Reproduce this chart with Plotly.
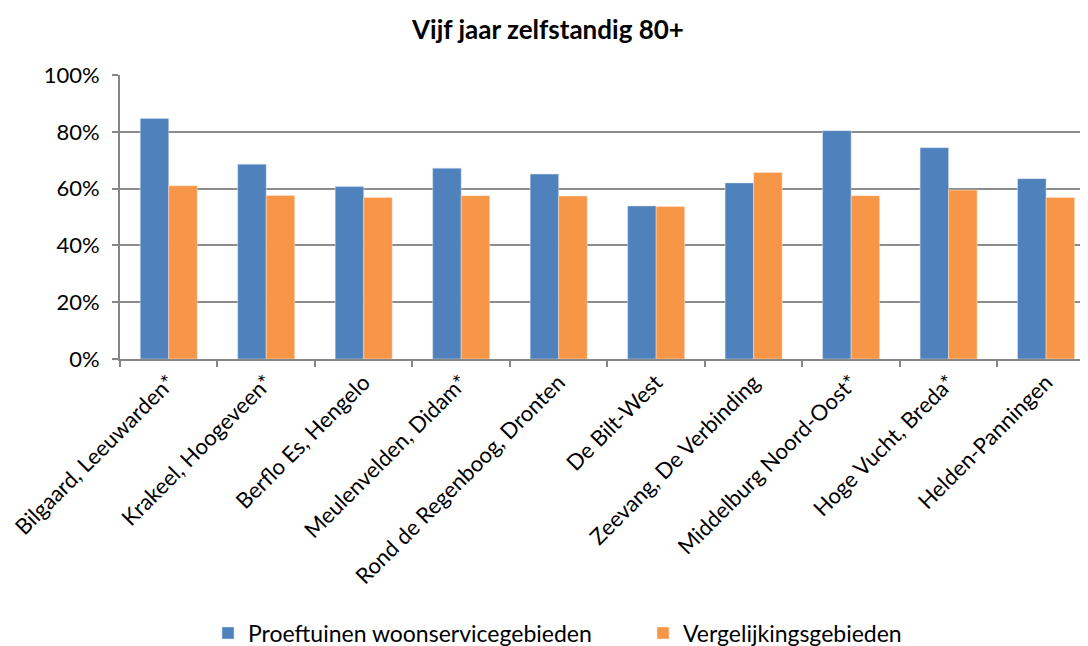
import plotly.graph_objects as go

categories = ["Bilgaard, Leeuwarden*", "Krakeel, Hoogeveen*", "Berflo Es, Hengelo",
              "Meulenvelden, Didam*", "Rond de Regenboog, Dronten", "De Bilt-West",
              "Zeevang, De Verbinding", "Middelburg Noord-Oost*", "Hoge Vucht, Breda*",
              "Helden-Panningen"]
proeftuinen = [0.847, 0.686, 0.607, 0.672, 0.651, 0.539, 0.620, 0.804, 0.744, 0.635]
vergelijking = [0.610, 0.576, 0.569, 0.575, 0.574, 0.537, 0.657, 0.575, 0.595, 0.569]
series_names = ["Proeftuinen woonservicegebieden", "Vergelijkingsgebieden"]
y_ticks = [0, 0.2, 0.4, 0.6, 0.8, 1.0]

FONT = "Lato"

fig = go.Figure()
fig.add_trace(go.Bar(x=categories, y=proeftuinen, name=series_names[0],
                     marker=dict(color="#4F81BD", line=dict(color="#dbe5f1", width=0.5))))
fig.add_trace(go.Bar(x=categories, y=vergelijking, name=series_names[1],
                     marker=dict(color="#F79646", line=dict(color="#fde9d9", width=0.5))))

fig.update_layout(
    width=1080, height=638,
    margin=dict(l=112, r=0, t=67, b=287, autoexpand=False),
    paper_bgcolor="white", plot_bgcolor="white",
    barmode="group", bargap=0.415, bargroupgap=0,
    font=dict(family=FONT, size=22, color="black"),
    title=dict(text="<b>Vijf jaar zelfstandig 80+</b>", x=0.5, xanchor="center",
               y=1 - 22 / 638, yanchor="middle", font=dict(family=FONT, size=26, color="black")),
    legend=dict(orientation="h", x=(208 - 120) / 968, xanchor="left",
                y=-0.965, yanchor="middle",
                font=dict(family=FONT, size=23), traceorder="normal",
                itemwidth=30, entrywidth=390, entrywidthmode="pixels", tracegroupgap=0),
    showlegend=True,
)
fig.update_xaxes(
    range=[-0.5, 9.43], showline=True, linecolor="#868686", linewidth=2,
    ticks="outside", tickson="boundaries", ticklen=6, tickcolor="#868686", tickwidth=2,
    tickangle=-45, tickfont=dict(family=FONT, size=22), showgrid=False, automargin=False,
)
fig.update_yaxes(
    range=[0, 1.0], tickvals=y_ticks, tickformat=".0%",
    showline=True, linecolor="#868686", linewidth=2,
    ticks="outside", ticklen=6, tickcolor="#868686", tickwidth=2, ticklabelstandoff=8,
    showgrid=True, gridcolor="#8c8c8c", gridwidth=2, zeroline=False,
    tickfont=dict(family=FONT, size=22), automargin=False,
)

fig.write_html("out.html")
